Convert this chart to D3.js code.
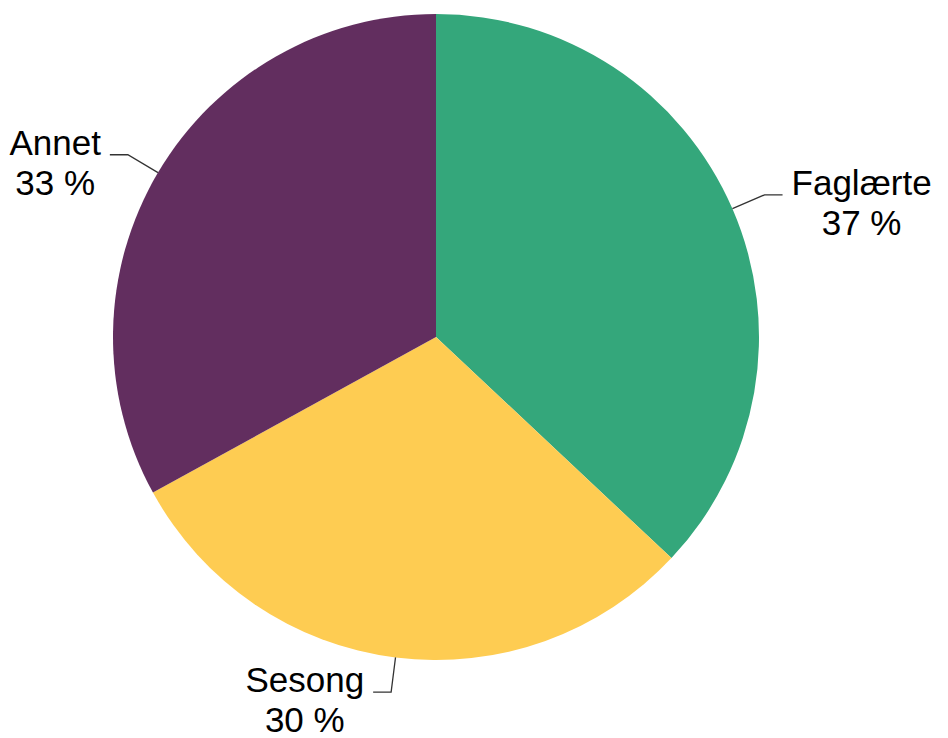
<!DOCTYPE html>
<html>
<head>
<meta charset="utf-8">
<script src="https://cdn.jsdelivr.net/npm/d3@7"></script>
<style>
  body { margin: 0; background: #fff; }
</style>
</head>
<body>
<script>
// chart data
var categories = ["Faglærte", "Sesong", "Annet"];
var shares = [37, 30, 33];
var colors = ["#34a77b", "#fecc52", "#622e5f"];

function main(){
    var width = 948, height = 738;
    var cx = 436, cy = 337, radius = 323;

    var svg = d3.select("body").append("svg")
        .attr("width", width)
        .attr("height", height);

    var g = svg.append("g")
        .attr("transform", "translate(" + cx + "," + cy + ")");

    var data = categories.map(function(c, i){
        return {name: c, value: shares[i], color: colors[i]};
    });

    var pie = d3.pie().sort(null).value(function(d){ return d.value; });
    var arc = d3.arc().innerRadius(0).outerRadius(radius);
    var arcs = pie(data);

    // slices
    g.selectAll(".slice")
        .data(arcs)
        .enter().append("path")
        .attr("class", "slice")
        .attr("d", arc)
        .attr("fill", function(d){ return d.data.color; });

    // leader lines + labels
    var elbowR = 358, tail = 18, gap = 9;
    arcs.forEach(function(d){
        var mid = (d.startAngle + d.endAngle) / 2;
        var p0 = [radius * Math.sin(mid), -radius * Math.cos(mid)];
        var p1 = [elbowR * Math.sin(mid), -elbowR * Math.cos(mid)];
        var side = Math.sin(mid) >= 0 ? 1 : -1;
        var p2 = [p1[0] + side * tail, p1[1]];

        g.append("polyline")
            .attr("points", [p0, p1, p2].map(function(p){ return p.join(","); }).join(" "))
            .attr("fill", "none")
            .attr("stroke", "#333")
            .attr("stroke-width", 1.3);

        var txt = g.append("text")
            .attr("font-family", "Liberation Sans, Arial, sans-serif")
            .attr("font-size", "35px")
            .attr("fill", "#000")
            .attr("text-anchor", "middle");

        var l1 = txt.append("tspan").text(d.data.name);
        var l2 = txt.append("tspan").text(d.data.value + " %");
        var w = Math.max(l1.node().getComputedTextLength(), l2.node().getComputedTextLength());
        var tx = p2[0] + side * (gap + w / 2);
        l1.attr("x", tx).attr("y", p1[1]);
        l2.attr("x", tx).attr("y", p1[1] + 40);
    });
}
main();
</script>
</body>
</html>
